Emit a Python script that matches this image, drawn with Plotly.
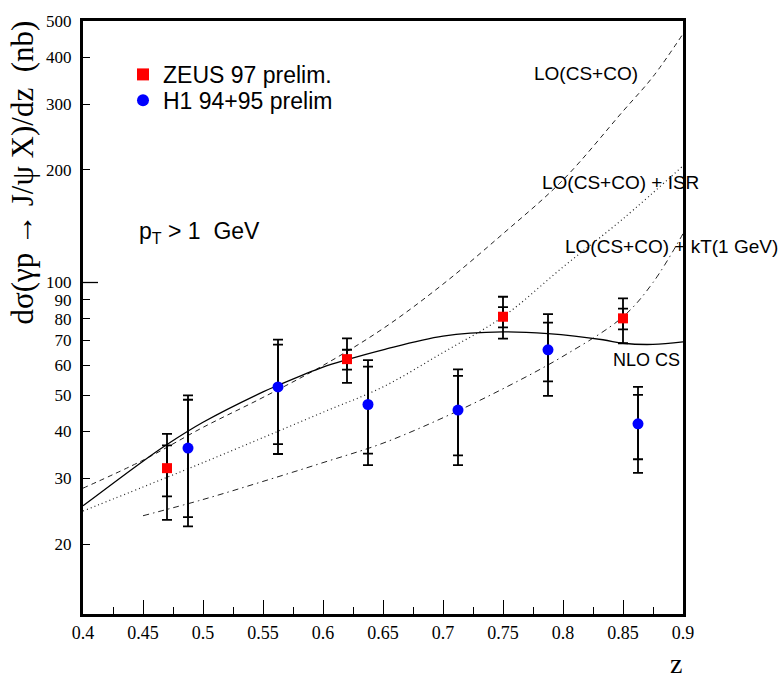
import math
import plotly.graph_objects as go

# ---------------- data ----------------
zeus_z = [0.47, 0.62, 0.75, 0.85]
zeus_y = [31.9, 62.4, 81.0, 80.2]
zeus_stat_lo = [26.8, 58.5, 75.9, 74.9]
zeus_stat_hi = [36.7, 66.1, 85.9, 85.2]
zeus_tot_lo = [23.2, 53.9, 70.8, 68.8]
zeus_tot_hi = [39.4, 70.9, 91.6, 90.7]

h1_z = [0.4875, 0.5625, 0.6375, 0.7125, 0.7875, 0.8625]
h1_y = [36.1, 52.6, 47.2, 45.6, 66.1, 41.9]
h1_stat_lo = [23.6, 37.0, 34.9, 34.5, 54.4, 33.7]
h1_stat_hi = [48.6, 68.2, 59.6, 56.3, 78.1, 50.1]
h1_tot_lo = [22.3, 34.8, 32.5, 32.5, 49.8, 31.0]
h1_tot_hi = [49.9, 70.4, 62.0, 58.6, 82.3, 52.6]

nlo_z = [0.40, 0.45, 0.47, 0.50, 0.55, 0.5625, 0.60, 0.62, 0.65, 0.70, 0.75, 0.7875, 0.8333, 0.85, 0.875, 0.90]
nlo_y = [25.3, 33.3, 36.9, 42.3, 51.0, 53.1, 59.4, 62.2, 66.1, 71.9, 73.8, 73.0, 70.3, 68.8, 68.3, 69.4]

lo_z = [0.40, 0.45, 0.50, 0.55, 0.60, 0.65, 0.70, 0.75, 0.80, 0.85, 0.875, 0.90]
lo_y = [28.2, 33.5, 41.0, 49.3, 60.0, 75.3, 99.0, 135.0, 188.0, 287.0, 355.0, 462.0]

isr_z = [0.40, 0.45, 0.50, 0.55, 0.60, 0.65, 0.70, 0.75, 0.80, 0.85, 0.90]
isr_y = [24.5, 28.4, 33.0, 38.5, 45.0, 52.6, 65.0, 81.0, 110.0, 148.0, 205.0]

kt_z = [0.45, 0.50, 0.55, 0.60, 0.65, 0.70, 0.75, 0.80, 0.85, 0.875, 0.90]
kt_y = [23.8, 26.3, 29.4, 33.0, 37.2, 43.5, 52.0, 63.5, 81.0, 100.0, 135.0]

y_tickvals = [20, 30, 40, 50, 60, 70, 80, 90, 100, 200, 300, 400, 500]
x_tickvals = [0.4, 0.45, 0.5, 0.55, 0.6, 0.65, 0.7, 0.75, 0.8, 0.85, 0.9]
x_ticktext = ["0.4", "0.45", "0.5", "0.55", "0.6", "0.65", "0.7", "0.75", "0.8", "0.85", "0.9"]

# ---------------- layout geometry ----------------
W, H = 784, 678
L, R, T, B = 83, 101, 15, 64
PW, PH = W - L - R, H - T - B


def px(x):
    return (x - L) / PW


def py(y):
    return (H - B - y) / PH


SERIF = "Liberation Serif"
SANS = "Liberation Sans"

fig = go.Figure()

# theory curves
fig.add_trace(go.Scatter(x=lo_z, y=lo_y, mode="lines", line=dict(color="#222", width=1, dash="5px,4px", shape="spline"),
                         showlegend=False, hoverinfo="skip"))
fig.add_trace(go.Scatter(x=isr_z, y=isr_y, mode="lines", line=dict(color="#222", width=1.2, dash="1px,3px", shape="spline"),
                         showlegend=False, hoverinfo="skip"))
fig.add_trace(go.Scatter(x=kt_z, y=kt_y, mode="lines", line=dict(color="#222", width=1, dash="6px,4px,1.5px,4px", shape="spline"),
                         showlegend=False, hoverinfo="skip"))
fig.add_trace(go.Scatter(x=nlo_z, y=nlo_y, mode="lines", line=dict(color="black", width=1.3, shape="spline"),
                         showlegend=False, hoverinfo="skip"))


def err_arrays(y, lo, hi):
    return [h - v for v, h in zip(y, hi)], [v - l for v, l in zip(y, lo)]


for zz, yy, tlo, thi, slo, shi, sym, col, name, leg in [
    (zeus_z, zeus_y, zeus_tot_lo, zeus_tot_hi, zeus_stat_lo, zeus_stat_hi, "square", "#ff0000", "ZEUS 97 prelim.", "legend"),
    (h1_z, h1_y, h1_tot_lo, h1_tot_hi, h1_stat_lo, h1_stat_hi, "circle", "#0000ff", "H1 94+95 prelim", "legend2"),
]:
    up, dn = err_arrays(yy, tlo, thi)
    fig.add_trace(go.Scatter(x=zz, y=yy, mode="markers", marker=dict(size=1, opacity=0),
                             error_y=dict(type="data", symmetric=False, array=up, arrayminus=dn,
                                          color="black", thickness=1.8, width=5),
                             showlegend=False, hoverinfo="skip"))
    up, dn = err_arrays(yy, slo, shi)
    fig.add_trace(go.Scatter(x=zz, y=yy, mode="markers", name=name, legend=leg,
                             marker=dict(symbol=sym, size=11 if sym == "circle" else 10, color=col, line=dict(width=0)),
                             error_y=dict(type="data", symmetric=False, array=up, arrayminus=dn,
                                          color="black", thickness=1.8, width=5),
                             showlegend=True))

annotations = [
    dict(text="LO(CS+CO)", x=px(532), y=py(68), xanchor="left", yanchor="middle", font=dict(family=SANS, size=19)),
    dict(text="LO(CS+CO) + ISR", x=px(540), y=py(178), xanchor="left", yanchor="middle", font=dict(family=SANS, size=19)),
    dict(text="LO(CS+CO) + kT(1 GeV)", x=px(563), y=py(243), xanchor="left", yanchor="middle", font=dict(family=SANS, size=19)),
    dict(text="NLO CS", x=px(611), y=py(357), xanchor="left", yanchor="middle", font=dict(family=SANS, size=18)),
    dict(text="p<sub>T</sub> &gt; 1\u00a0\u00a0GeV", x=px(137), y=py(229), xanchor="left", yanchor="middle",
         font=dict(family=SANS, size=23)),
    dict(text="dσ(γp → J/ψ X)/dz\u00a0\u00a0(nb)", x=px(22), y=py(168), xanchor="center", yanchor="middle",
         textangle=-90, font=dict(family=SERIF, size=31)),
    dict(text="z", x=px(676), y=py(664), xanchor="center", yanchor="middle", font=dict(family=SERIF, size=28)),
]
for a in annotations:
    a.update(xref="paper", yref="paper", showarrow=False)
    a["font"]["color"] = "black"

leg_common = dict(xanchor="left", yanchor="middle", bgcolor="rgba(0,0,0,0)",
                  font=dict(family=SANS, size=23, color="black"), itemsizing="constant")

fig.update_layout(
    width=W, height=H,
    margin=dict(l=L, r=R, t=T, b=B, pad=0),
    paper_bgcolor="white", plot_bgcolor="white",
    annotations=annotations,
    showlegend=True,
    legend=dict(x=px(123), y=py(69), **leg_common),
    legend2=dict(x=px(123), y=py(95), **leg_common),
    shapes=[dict(type="line", xref="paper", yref="y", x0=0, x1=15 / PW, y0=100, y1=100,
                 line=dict(color="black", width=1.3))],
)

fig.update_xaxes(
    range=[0.4, 0.9], tickmode="array", tickvals=x_tickvals, ticktext=x_ticktext,
    ticks="inside", ticklen=14, tickwidth=1.3, tickcolor="black",
    minor=dict(tickmode="linear", tick0=0.4, dtick=0.025, ticks="inside", ticklen=7, tickwidth=1.3, tickcolor="black"),
    showline=True, linewidth=3, linecolor="black", mirror=True, showgrid=False, zeroline=False,
    tickfont=dict(family=SERIF, size=18, color="black"),
)
fig.update_yaxes(
    type="log", range=[math.log10(13.0), math.log10(500)],
    tickmode="array", tickvals=y_tickvals, ticktext=[str(v) for v in y_tickvals],
    ticks="inside", ticklen=7, tickwidth=1.3, tickcolor="black", ticklabelstandoff=5,
    showline=True, linewidth=3, linecolor="black", mirror=True, showgrid=False, zeroline=False,
    tickfont=dict(family=SERIF, size=17, color="black"),
)

fig.write_html("out.html")
